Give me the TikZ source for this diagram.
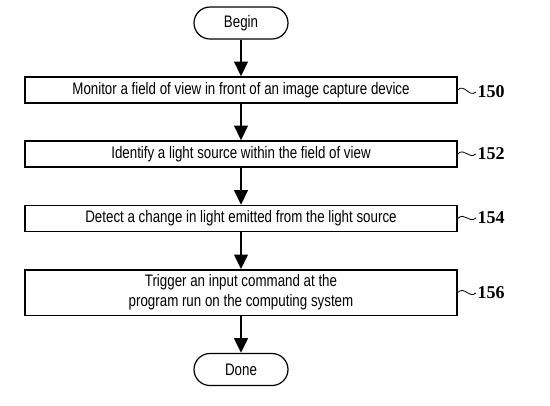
\documentclass[tikz,border=0pt]{standalone}
\usepackage{fontspec}
\setmainfont[FakeStretch=0.8]{Liberation Sans}
\newfontfamily\refnumfont{Liberation Serif}
\usetikzlibrary{positioning,arrows.meta,shapes.misc}

\begin{document}
\begin{tikzpicture}[
    x=0.75pt,
    y=-0.75pt,
    font=\fontsize{12.5}{15}\selectfont,
    >={Triangle[length=11pt,width=10pt]},
    terminal/.style={
        draw,
        rounded rectangle,
        line width=0.9pt,
        minimum width=70.5pt,
        minimum height=24pt,
        inner sep=0pt
    },
    stepbox/.style={
        draw,
        line width=1pt,
        align=center,
        minimum width=324pt,
        minimum height=19.5pt,
        inner sep=0pt
    },
    refnum/.style={
        font=\refnumfont\bfseries\fontsize{13.5}{15}\selectfont,
        inner sep=1pt
    },
    arrow/.style={
        ->,
        line width=2.2pt
    },
    squiggle/.style={
        line width=0.6pt
    }
]
\useasboundingbox (0,0) rectangle (550,405);

\node[terminal] (begin) at (241,23) {Begin};

\node[stepbox] (monitor) at (241,90) {Monitor a field of view in front of an image capture device};
\node[stepbox] (identify) at (241,154) {Identify a light source within the field of view};
\node[stepbox] (detect) at (241,218.5) {Detect a change in light emitted from the light source};
\node[stepbox, minimum height=34pt] (trigger) at (241,292.5)
{Trigger an input command at the\\program run on the computing system};

\node[terminal] (done) at (241,369.5) {Done};

\draw[arrow] (begin.south) -- (monitor.north);
\draw[arrow] (monitor.south) -- (identify.north);
\draw[arrow] (identify.south) -- (detect.north);
\draw[arrow] (detect.south) -- (trigger.north);
\draw[arrow] (trigger.south) -- (done.north);

% reference numbers
\node[refnum] (n150) at (491,92) {150};
\node[refnum] (n152) at (491,154) {152};
\node[refnum] (n154) at (491,218) {154};
\node[refnum] (n156) at (491,293) {156};

\draw[squiggle] (monitor.east) .. controls +(7,-7) and +(-7,6) .. (n150.west);
\draw[squiggle] (identify.east) .. controls +(7,-7) and +(-7,6) .. (n152.west);
\draw[squiggle] (detect.east) .. controls +(7,-7) and +(-7,6) .. (n154.west);
\draw[squiggle] (trigger.east) .. controls +(7,-7) and +(-7,6) .. (n156.west);

\end{tikzpicture}
\end{document}
